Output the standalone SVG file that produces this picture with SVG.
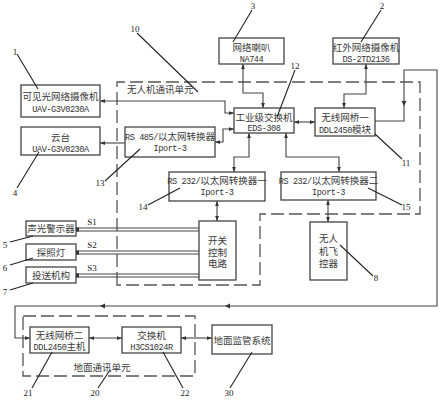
<svg xmlns="http://www.w3.org/2000/svg" width="440" height="400" viewBox="0 0 440 400">
<style>
text{font-family:"Liberation Serif","Noto Sans CJK SC",serif;fill:#3a3a3a;text-anchor:middle}
.cn{font-size:9.5px}
.en,.m{font-family:"Liberation Mono","Noto Sans CJK SC",monospace;font-size:8.6px;letter-spacing:-0.45px;fill:#333}
.lb{font-size:9px;fill:#222}
.box{fill:#fff;stroke:#444;stroke-width:1.3}
.dash{fill:none;stroke:#555;stroke-width:1.3;stroke-dasharray:13 5}
.c{fill:none;stroke:#444;stroke-width:1.1}
.b{marker-start:url(#a);marker-end:url(#a)}
.e{marker-end:url(#a)}
.ld{stroke:#222;stroke-width:1.1}
.ah{fill:#333}
</style>
<defs>
<marker id="a" viewBox="0 0 8 8" refX="8" refY="4" markerWidth="5" markerHeight="5" markerUnits="userSpaceOnUse" orient="auto-start-reverse"><path d="M0,1 L8,4 L0,7z" fill="#333"/></marker>
</defs>
<rect width="440" height="400" fill="#fff"/>

<g id="units">
<path class="dash" d="M117,285 V82 H420 V214 H260 V285 Z"/>
<text class="cn" x="127" y="92.5" style="text-anchor:start">无人机通讯单元</text>
<rect class="dash" x="23" y="316" width="172" height="60"/>
<text class="cn" x="102" y="370.5">地面通讯单元</text>
</g>

<g id="connectors">
<path class="c b" d="M100,101 H225 V113 H234"/>
<path class="c e" d="M125,143 H100"/>
<path class="c b" d="M215,142 H223 V129 H234"/>
<path class="c b" d="M243,64 V93 H263 V108"/>
<path class="c b" d="M366,64 V94 H344 V108"/>
<path class="c b" d="M294,122 H315"/>
<path class="c b" d="M249,133 V157 H234 V172"/>
<path class="c b" d="M286,133 V157 H339 V172"/>
<path class="c b" d="M217,201 V221"/>
<path class="c b" d="M328,200 V222"/>
<path class="c e" d="M375,121 H404 V70 H437 V306 H15 V338 H30"/>
<polygon class="ah" points="401.5,101 406.5,101 404,106"/>
<polygon class="ah" points="225,306 230,303.5 230,308.5"/>
<polygon class="ah" points="100,306 105,303.5 105,308.5"/>
<path class="c b" d="M89,338 H122"/>
<path class="c b" d="M181,338 H212"/>
<g class="c">
<path d="M76,228 H199 M76,231 H199"/>
<path d="M76,251 H199 M76,254 H199"/>
<path d="M76,274 H199 M76,277 H199"/>
</g>
<rect class="ah" x="76" y="227.5" width="3" height="4"/>
<rect class="ah" x="76" y="250.5" width="3" height="4"/>
<rect class="ah" x="76" y="273.5" width="3" height="4"/>
<text class="lb" x="92" y="225">S1</text>
<text class="lb" x="92" y="248">S2</text>
<text class="lb" x="92" y="271">S3</text>
</g>

<g id="n1"><rect class="box" x="21" y="85" width="79" height="32"/>
<text class="cn" x="60.5" y="99.5">可见光网络摄像机</text><text class="en" x="60.5" y="112">UAV-G3V0230A</text></g>
<g id="n4"><rect class="box" x="21" y="127" width="79" height="28"/>
<text class="cn" x="60.5" y="140.5">云台</text><text class="en" x="60.5" y="151.5">UAV-G3V0230A</text></g>
<g id="n3"><rect class="box" x="219" y="38" width="65" height="26"/>
<text class="cn" x="251.5" y="50.5">网络喇叭</text><text class="en" x="251.5" y="61.5">NA744</text></g>
<g id="n2"><rect class="box" x="333" y="38" width="66" height="26"/>
<text class="cn" x="366" y="50.5">红外网络摄像机</text><text class="en" x="366" y="61.5">DS-2TD2136</text></g>
<g id="n12"><rect class="box" x="234" y="108" width="60" height="25"/>
<text class="cn" x="264" y="120.5">工业级交换机</text><text class="en" x="264" y="130.5">EDS-308</text></g>
<g id="n11"><rect class="box" x="315" y="108" width="60" height="28"/>
<text class="cn" x="345" y="120.5">无线网桥一</text><text class="cn" x="345" y="132.5"><tspan class="m">DDL2450</tspan>模块</text></g>
<g id="n13"><rect class="box" x="125" y="127" width="90" height="30"/>
<text class="cn" x="170" y="139.5"><tspan class="m">RS 485/</tspan>以太网转换器</text><text class="en" x="170" y="150.5">Iport-3</text></g>
<g id="n14"><rect class="box" x="169" y="172" width="96" height="29"/>
<text class="cn" x="217" y="184"><tspan class="m">RS 232/</tspan>以太网转换器一</text><text class="en" x="217" y="195">Iport-3</text></g>
<g id="n15"><rect class="box" x="281" y="172" width="95" height="28"/>
<text class="cn" x="328.5" y="184"><tspan class="m">RS 232/</tspan>以太网转换器二</text><text class="en" x="328.5" y="195">Iport-3</text></g>
<g id="nsw"><rect class="box" x="199" y="221" width="37" height="59"/>
<text class="cn" x="217.5" y="243.5">开关</text><text class="cn" x="217.5" y="255.5">控制</text><text class="cn" x="217.5" y="267">电路</text></g>
<g id="n8"><rect class="box" x="310" y="222" width="37" height="58"/>
<text class="cn" x="328.5" y="241.5">无人</text><text class="cn" x="328.5" y="255">机飞</text><text class="cn" x="328.5" y="266.5">控器</text></g>
<g id="n5"><rect class="box" x="26" y="221" width="50" height="15"/><text class="cn" x="51" y="232">声光警示器</text></g>
<g id="n6"><rect class="box" x="26" y="244" width="50" height="16"/><text class="cn" x="51" y="255.5">探照灯</text></g>
<g id="n7"><rect class="box" x="26" y="267" width="50" height="16"/><text class="cn" x="51" y="278.5">投送机构</text></g>
<g id="n21"><rect class="box" x="30" y="327" width="59" height="26"/>
<text class="cn" x="59.5" y="338.5">无线网桥二</text><text class="cn" x="59.5" y="350"><tspan class="m">DDL2450</tspan>主机</text></g>
<g id="n22"><rect class="box" x="122" y="327" width="59" height="26"/>
<text class="cn" x="151.5" y="338.5">交换机</text><text class="en" x="151.5" y="350">H3CS1024R</text></g>
<g id="n30"><rect class="box" x="212" y="325" width="60" height="29"/>
<text class="cn" x="242" y="343.5">地面监管系统</text></g>

<g id="labels">
<line class="ld" x1="17" y1="54" x2="38" y2="89"/><text class="lb" x="15" y="55">1</text>
<line class="ld" x1="137" y1="33" x2="198" y2="92"/><text class="lb" x="135" y="32">10</text>
<line class="ld" x1="252" y1="10" x2="233" y2="42"/><text class="lb" x="253" y="9">3</text>
<line class="ld" x1="381" y1="10" x2="361" y2="42"/><text class="lb" x="382" y="9">2</text>
<line class="ld" x1="295" y1="70" x2="277" y2="117"/><text class="lb" x="295" y="69">12</text>
<line class="ld" x1="375" y1="134" x2="402" y2="159"/><text class="lb" x="406" y="166">11</text>
<line class="ld" x1="105" y1="181" x2="140" y2="149"/><text class="lb" x="100" y="186">13</text>
<line class="ld" x1="17" y1="188" x2="39" y2="152"/><text class="lb" x="15" y="196">4</text>
<line class="ld" x1="148" y1="205" x2="180" y2="188"/><text class="lb" x="143" y="210">14</text>
<line class="ld" x1="368" y1="188" x2="402" y2="205"/><text class="lb" x="406" y="210">15</text>
<line class="ld" x1="340" y1="245" x2="373" y2="276"/><text class="lb" x="376" y="281">8</text>
<line class="ld" x1="10" y1="242" x2="33" y2="236"/><text class="lb" x="5" y="248">5</text>
<line class="ld" x1="10" y1="265" x2="33" y2="258"/><text class="lb" x="5" y="271">6</text>
<line class="ld" x1="10" y1="290" x2="33" y2="283"/><text class="lb" x="5" y="295">7</text>
<line class="ld" x1="32" y1="388" x2="52" y2="352"/><text class="lb" x="28" y="396">21</text>
<line class="ld" x1="98" y1="388" x2="110" y2="370"/><text class="lb" x="95" y="396">20</text>
<line class="ld" x1="183" y1="388" x2="163" y2="352"/><text class="lb" x="185" y="396">22</text>
<line class="ld" x1="230" y1="388" x2="252" y2="352"/><text class="lb" x="229" y="396">30</text>
</g>
</svg>
